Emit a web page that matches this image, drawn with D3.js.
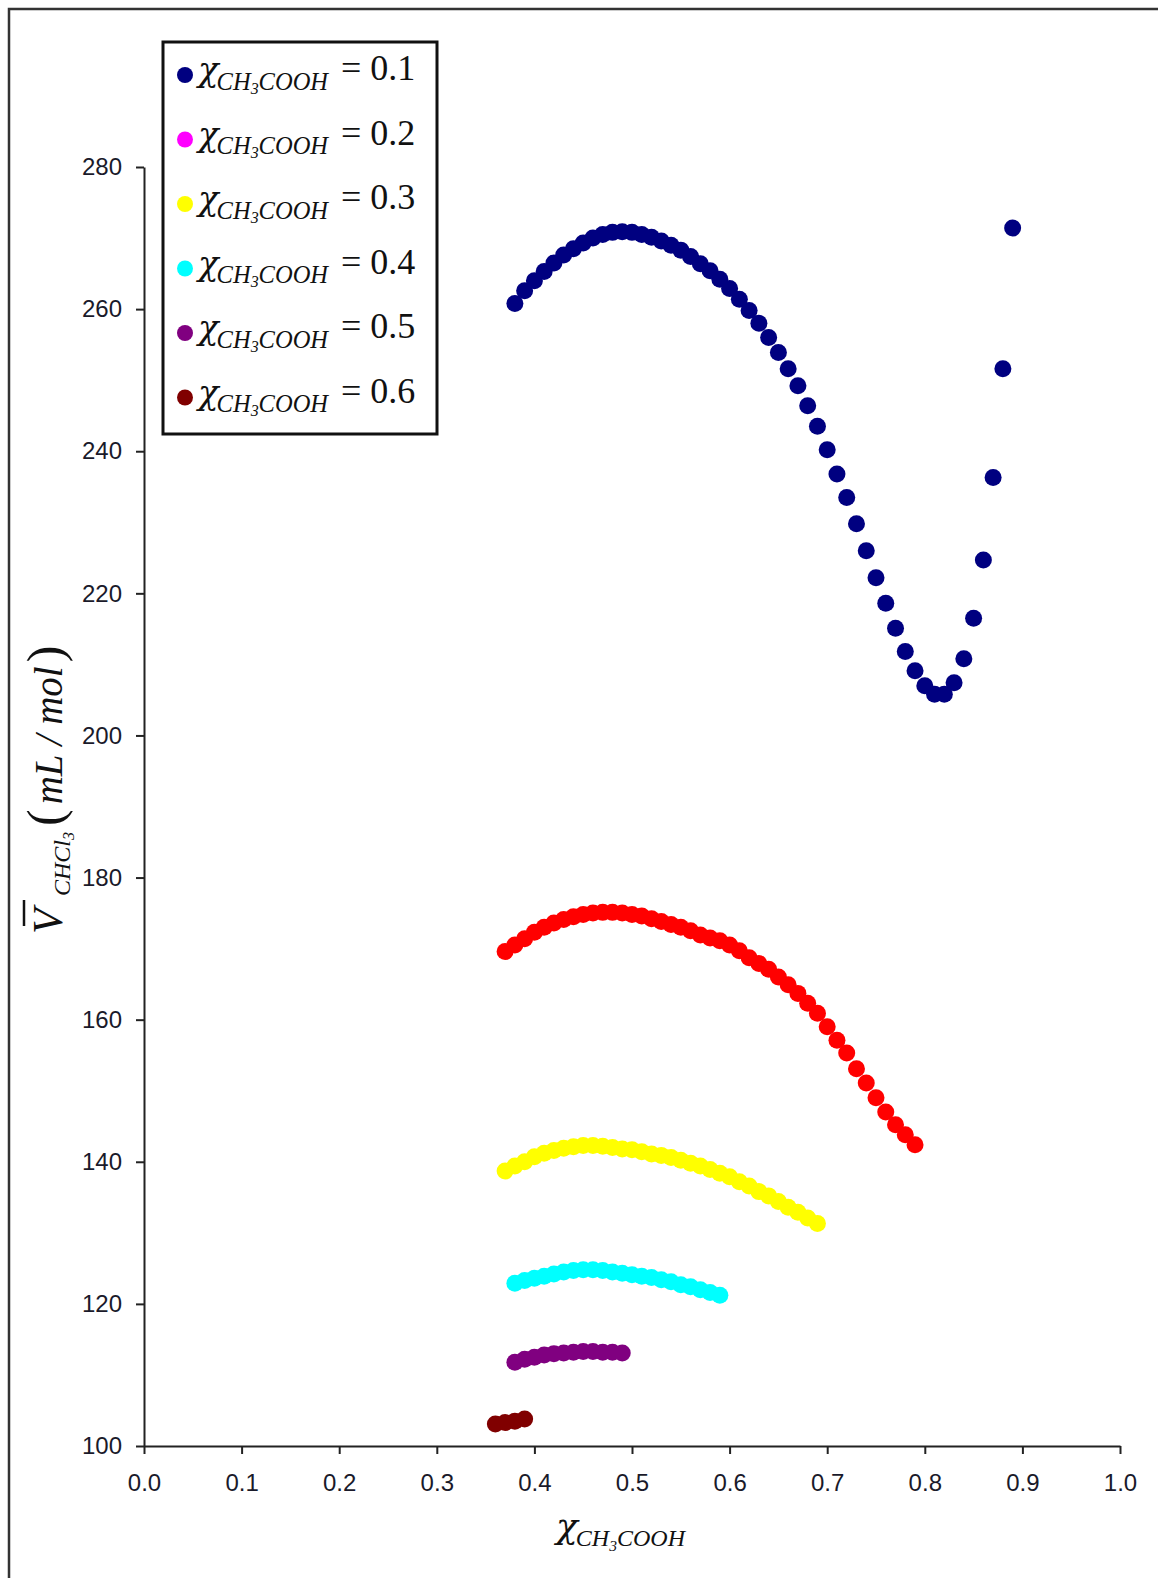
<!DOCTYPE html>
<html>
<head>
<meta charset="utf-8">
<script src="https://cdn.jsdelivr.net/npm/d3@7"></script>
<style>
  body { margin: 0; background: #fff; }
  svg { display: block; }
</style>
</head>
<body>
<svg id="chart" width="1158" height="1578"></svg>
<script>
// series, x = mole fraction of acetic acid, y = partial molar volume of CHCl3
var seriesNames = ["0.1", "0.2", "0.3", "0.4", "0.5", "0.6"];
var legendColors = ["#000080", "#ff00ff", "#ffff00", "#00ffff", "#800080", "#800000"];
var pointColors = ["#000080", "#ff0000", "#ffff00", "#00ffff", "#800080", "#800000"];

var x01 = [0.38,0.39,0.40,0.41,0.42,0.43,0.44,0.45,0.46,0.47,0.48,0.49,0.50,0.51,0.52,0.53,0.54,0.55,0.56,0.57,0.58,0.59,0.60,0.61,0.62,0.63,0.64,0.65,0.66,0.67,0.68,0.69,0.70,0.71,0.72,0.73,0.74,0.75,0.76,0.77,0.78,0.79,0.80,0.81,0.82,0.83,0.84,0.85,0.86,0.87,0.88,0.89];
var y01 = [260.8,262.6,264.0,265.3,266.5,267.6,268.5,269.3,270.0,270.5,270.8,270.9,270.8,270.5,270.1,269.6,269.0,268.3,267.4,266.4,265.4,264.2,262.9,261.4,259.8,258.0,256.0,253.9,251.6,249.2,246.4,243.5,240.2,236.8,233.5,229.8,226.0,222.2,218.6,215.1,211.8,209.1,207.0,205.8,205.8,207.4,210.8,216.5,224.7,236.3,251.6,271.4];

var x02 = [0.37,0.38,0.39,0.40,0.41,0.42,0.43,0.44,0.45,0.46,0.47,0.48,0.49,0.50,0.51,0.52,0.53,0.54,0.55,0.56,0.57,0.58,0.59,0.60,0.61,0.62,0.63,0.64,0.65,0.66,0.67,0.68,0.69,0.70,0.71,0.72,0.73,0.74,0.75,0.76,0.77,0.78,0.79];
var y02 = [169.6,170.5,171.4,172.3,173.0,173.6,174.1,174.5,174.8,175.0,175.1,175.1,175.0,174.8,174.6,174.2,173.8,173.4,173.0,172.5,171.9,171.5,171.1,170.5,169.7,168.7,167.9,167.1,166.0,164.9,163.7,162.3,160.9,159.0,157.1,155.3,153.1,151.1,149.0,147.0,145.2,143.8,142.4];

var x03 = [0.37,0.38,0.39,0.40,0.41,0.42,0.43,0.44,0.45,0.46,0.47,0.48,0.49,0.50,0.51,0.52,0.53,0.54,0.55,0.56,0.57,0.58,0.59,0.60,0.61,0.62,0.63,0.64,0.65,0.66,0.67,0.68,0.69];
var y03 = [138.7,139.4,140.0,140.7,141.2,141.6,141.9,142.1,142.3,142.3,142.2,142.0,141.8,141.7,141.4,141.1,140.9,140.6,140.2,139.8,139.4,138.9,138.4,137.9,137.2,136.6,135.8,135.2,134.4,133.6,132.9,132.1,131.3];

var x04 = [0.38,0.39,0.40,0.41,0.42,0.43,0.44,0.45,0.46,0.47,0.48,0.49,0.50,0.51,0.52,0.53,0.54,0.55,0.56,0.57,0.58,0.59];
var y04 = [122.9,123.3,123.6,123.9,124.2,124.5,124.7,124.8,124.8,124.7,124.5,124.3,124.1,123.9,123.7,123.4,123.1,122.7,122.4,122.0,121.6,121.2];

var x05 = [0.38,0.39,0.40,0.41,0.42,0.43,0.44,0.45,0.46,0.47,0.48,0.49];
var y05 = [111.8,112.2,112.5,112.8,113.0,113.1,113.2,113.3,113.3,113.2,113.2,113.1];

var x06 = [0.36,0.37,0.38,0.39];
var y06 = [103.1,103.3,103.5,103.8];

var xTicks = [0,0.1,0.2,0.3,0.4,0.5,0.6,0.7,0.8,0.9,1.0];
var yTicks = [100,120,140,160,180,200,220,240,260,280];

var allX = [x01, x02, x03, x04, x05, x06];
var allY = [y01, y02, y03, y04, y05, y06];

var svg = d3.select("#chart");

// outer frame (only left and top edges show)
svg.append("path")
  .attr("d", "M9,1578 V9 H1158")
  .attr("fill", "none")
  .attr("stroke", "#333")
  .attr("stroke-width", 2.5);

var x = d3.scaleLinear().domain([0, 1]).range([144, 1120]);
var y = d3.scaleLinear().domain([100, 280]).range([1446, 167]);

var xAxis = svg.append("g")
  .attr("transform", "translate(0," + y(100) + ")")
  .call(d3.axisBottom(x).tickValues(xTicks).tickFormat(d3.format(".1f")).tickSize(8).tickSizeOuter(0).tickPadding(20));
var yAxis = svg.append("g")
  .attr("transform", "translate(" + x(0) + ",0)")
  .call(d3.axisLeft(y).tickValues(yTicks).tickFormat(d3.format("d")).tickSize(8).tickSizeOuter(0).tickPadding(14));

[xAxis, yAxis].forEach(function (a) {
  a.select(".domain").attr("stroke", "#222").attr("stroke-width", 2);
  a.selectAll(".tick line").attr("stroke", "#222").attr("stroke-width", 2);
  a.selectAll(".tick text")
    .attr("fill", "#1a1a2a")
    .style("font-family", "'Liberation Sans', Arial, sans-serif")
    .style("font-size", "24px");
});

// points
allX.forEach(function (xs, si) {
  var pts = xs.map(function (v, i) { return [v, allY[si][i]]; });
  svg.append("g")
    .selectAll("circle")
    .data(pts)
    .enter()
    .append("circle")
    .attr("cx", function (d) { return x(d[0]); })
    .attr("cy", function (d) { return y(d[1]); })
    .attr("r", 8.5)
    .attr("fill", pointColors[si]);
});

var serif = "'Liberation Serif', 'Times New Roman', serif";
var chiFont = "'DejaVu Serif', 'Liberation Serif', serif";

// writes chi with the CH3COOH subscript into a text element
function chiLabel(t, x0, chiSize, subSize) {
  t.append("tspan").attr("x", x0).style("font-family", chiFont).style("font-style", "italic").style("font-size", chiSize + "px").text("\u03c7");
  t.append("tspan").attr("dx", -2).attr("dy", subSize * 0.35).style("font-style", "italic").style("font-size", subSize + "px").text("CH");
  t.append("tspan").attr("dy", subSize * 0.18).style("font-style", "italic").style("font-size", (subSize * 0.65) + "px").text("3");
  t.append("tspan").attr("dy", -subSize * 0.18).style("font-style", "italic").style("font-size", subSize + "px").text("COOH");
}

// legend
var legend = svg.append("g");
legend.append("rect")
  .attr("x", 163).attr("y", 42)
  .attr("width", 274).attr("height", 392)
  .attr("fill", "#fff")
  .attr("stroke", "#111")
  .attr("stroke-width", 3);

seriesNames.forEach(function (name, i) {
  var cy = 75 + i * 64.5;
  var row = legend.append("g").attr("transform", "translate(0," + cy + ")");
  row.append("circle").attr("cx", 185).attr("cy", 0).attr("r", 8).attr("fill", legendColors[i]);
  var t = row.append("text").attr("y", 6).style("font-family", serif).attr("fill", "#111");
  chiLabel(t, 198, 34, 24.5);
  row.append("text").attr("x", 341).attr("y", 5)
    .style("font-family", serif).style("font-size", "36px").attr("fill", "#111")
    .text("= " + name);
});

// y axis title
var yt = svg.append("g").attr("transform", "translate(62,934) rotate(-90)");
var ytext = yt.append("text").style("font-family", serif).attr("fill", "#111");
ytext.append("tspan").attr("x", 0).style("font-style", "italic").style("font-size", "42px").text("V");
ytext.append("tspan").attr("x", 38).attr("dy", 8).style("font-style", "italic").style("font-size", "24px").text("CHCl");
ytext.append("tspan").attr("dy", 4).style("font-style", "italic").style("font-size", "16px").text("3");
ytext.append("tspan").attr("x", 108).attr("dy", -12).style("font-size", "50px").text("(");
ytext.append("tspan").attr("dx", 5).style("font-style", "italic").style("font-size", "39px").text("mL / mol");
ytext.append("tspan").attr("dx", 4).style("font-size", "50px").text(")");
yt.append("line")
  .attr("x1", 8).attr("x2", 34)
  .attr("y1", -38).attr("y2", -38)
  .attr("stroke", "#111").attr("stroke-width", 2.5);

// x axis title
var xt = svg.append("text").attr("y", 1538).style("font-family", serif).attr("fill", "#111");
chiLabel(xt, 556, 36, 24);
</script>
</body>
</html>
